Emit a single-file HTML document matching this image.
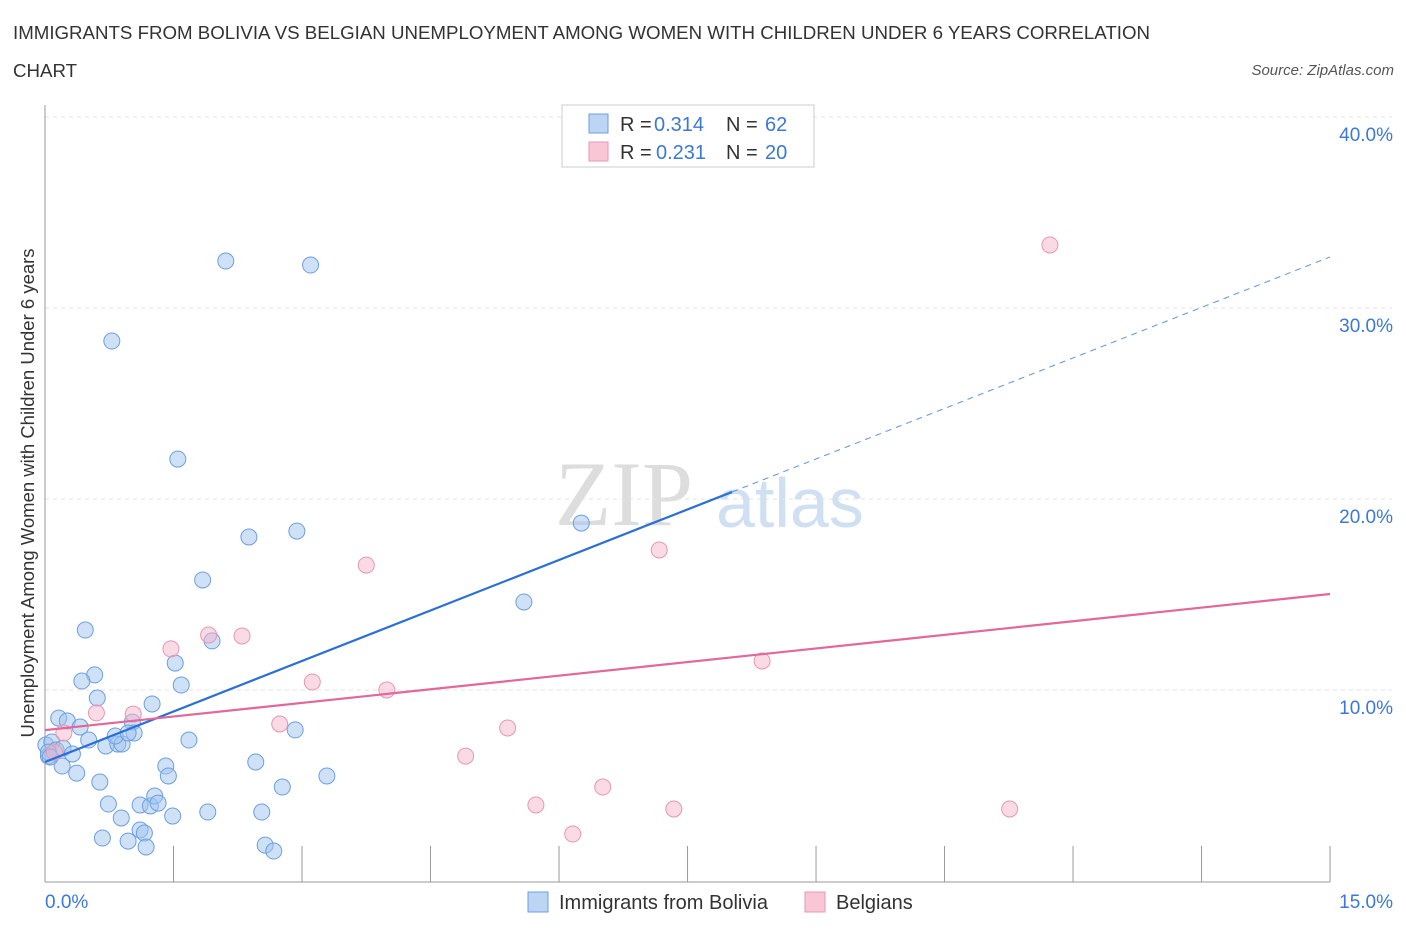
<!DOCTYPE html>
<html><head><meta charset="utf-8">
<style>
body{margin:0;background:#fff;font-family:"Liberation Sans",sans-serif;}
#wrap{position:relative;width:1406px;height:930px;overflow:hidden;}
.title{position:absolute;left:13px;top:14px;font-size:18.7px;color:#333;line-height:38px;width:1165px;}
.src{position:absolute;right:12px;top:62px;font-size:15px;color:#555;font-style:italic;}
</style></head>
<body>
<div id="wrap">
<div class="title">IMMIGRANTS FROM BOLIVIA VS BELGIAN UNEMPLOYMENT AMONG WOMEN WITH CHILDREN UNDER 6 YEARS CORRELATION CHART</div>
<div class="src">Source: ZipAtlas.com</div>
<svg id="chart" width="1406" height="930" style="position:absolute;left:0;top:0"></svg>
</div>
<script>
const blueX=[2.11,3.10,0.78,1.55,2.38,2.94,1.84,6.26,5.59,0.47,0.58,0.43,1.52,1.95,1.59,0.61,1.25,0.16,0.26,0.41,1.02,0.01,0.08,0.13,0.21,0.32,0.51,0.71,0.85,0.90,0.82,1.04,0.97,1.68,2.92,0.04,0.20,0.37,1.41,1.44,2.46,3.29,2.77,0.64,0.74,1.11,1.23,1.28,1.32,1.90,2.53,0.89,1.49,1.11,1.16,0.67,0.97,1.18,2.57,2.67,0.04,0.06];
const blueY=[32.46,32.25,28.27,22.09,18.01,18.32,15.76,18.74,14.61,13.14,10.79,10.47,11.41,12.57,10.26,9.58,9.27,8.53,8.38,8.06,8.32,7.12,7.28,6.86,6.96,6.65,7.38,7.07,7.17,7.17,7.59,7.75,7.75,7.38,7.91,6.54,6.02,5.65,6.02,5.50,6.23,5.50,4.92,5.18,4.03,3.98,3.93,4.45,4.08,3.61,3.61,3.30,3.40,2.67,2.51,2.25,2.09,1.78,1.88,1.57,6.75,6.49];
const pinkX=[11.73,7.17,3.75,1.47,1.91,2.30,3.12,3.99,8.37,0.60,1.03,2.74,5.40,0.22,0.11,4.91,6.51,5.73,7.34,11.26,6.16];
const pinkY=[33.30,17.33,16.54,12.15,12.88,12.83,10.42,10.0,11.52,8.80,8.74,8.22,8.01,7.75,6.75,6.54,4.92,3.98,3.77,3.77,2.46];
const blueTrend=[6.23,1.763];   // intercept, slope
const pinkTrend=[7.9,0.475];
const yTicks=[10,20,30,40];
const xTickVals=[0,1.5,3,4.5,6,7.5,9,10.5,12,13.5,15];

const X=v=>45+v*85.67, Y=v=>881-v*19.1;
const svg=document.getElementById('chart');
const NS='http://www.w3.org/2000/svg';
function el(t,a,p){const e=document.createElementNS(NS,t);for(const k in a)e.setAttribute(k,a[k]);(p||svg).appendChild(e);return e;}

let wm=el('text',{x:555,y:525,'font-size':92,fill:'#ddd','font-family':'Liberation Serif,serif'});wm.textContent='ZIP';


let wm2=el('text',{x:716,y:527,'font-size':70,fill:'#cfe0f3','font-family':'Liberation Sans,sans-serif'});wm2.textContent='atlas';



yTicks.forEach(v=>{
 const g=el('line',{x1:45,x2:1392,y1:Y(v),y2:Y(v),stroke:'#e2e2e2','stroke-dasharray':'4,4'});
 
 
 const t=el('text',{x:1393,y:Y(v)+24,'text-anchor':'end','font-size':19,fill:'#3b78d8'});t.textContent=v.toFixed(1)+'%';
 
 
});
const tg=el('line',{x1:45,x2:1392,y1:117,y2:117,stroke:'#e2e2e2','stroke-dasharray':'4,4'});


const ax=el('line',{x1:45,x2:1330,y1:882,y2:882,stroke:'#999'});


const ay=el('line',{x1:45,x2:45,y1:105,y2:882,stroke:'#999'});


xTickVals.forEach(v=>{const t=el('line',{x1:X(v),x2:X(v),y1:846,y2:882,stroke:'#999'});
 
 });
let xl=el('text',{x:45,y:908,'font-size':19,fill:'#3b78d8'});xl.textContent='0.0%';


let xr=el('text',{x:1393,y:908,'font-size':19,fill:'#3b78d8','text-anchor':'end'});xr.textContent='15.0%';


let yt=el('text',{x:0,y:0,'font-size':18.5,fill:'#333','text-anchor':'middle',transform:'translate(34,493) rotate(-90)'});yt.textContent='Unemployment Among Women with Children Under 6 years';



function dots(xs,ys,fill,stroke,name){xs.forEach((x,i)=>{
 const c=el('circle',{cx:X(x),cy:Y(ys[i]),r:8,fill:fill,stroke:stroke,'stroke-width':1});
 
 });}
dots(blueX,blueY,'rgba(160,196,240,0.5)','#6d9fe0','point-bolivia');
dots(pinkX,pinkY,'rgba(246,182,204,0.5)','#e797b3','point-belgians');

const bx1=8.02;
let b1=el('line',{x1:X(0),y1:Y(blueTrend[0]),x2:X(bx1),y2:Y(blueTrend[0]+blueTrend[1]*bx1),stroke:'#2a6fd8','stroke-width':2.2});


let b2=el('line',{x1:X(bx1),y1:Y(blueTrend[0]+blueTrend[1]*bx1),x2:X(15),y2:Y(blueTrend[0]+blueTrend[1]*15),stroke:'#5d92dd','stroke-width':1,'stroke-dasharray':'6,5'});


let p1=el('line',{x1:X(0),y1:Y(pinkTrend[0]),x2:X(15),y2:Y(pinkTrend[0]+pinkTrend[1]*15),stroke:'#e2679a','stroke-width':2.2});



const lg=el('g',{});


el('rect',{x:562,y:105,width:252,height:62,fill:'#fff',stroke:'#ccc'},lg);
el('rect',{x:589,y:114,width:19,height:19,fill:'#bcd5f5',stroke:'#6d9fe0'},lg);
el('rect',{x:589,y:142,width:19,height:19,fill:'#f9c6d6',stroke:'#e797b3'},lg);
function ltxt(x,y,s,c){const t=el('text',{x:x,y:y,'font-size':20,fill:c},lg);t.textContent=s;return t;}
ltxt(620,131,'R =','#333');ltxt(654,131,'0.314','#3b78d8');ltxt(726,131,'N =','#333');ltxt(765,131,'62','#3b78d8');
ltxt(620,159,'R =','#333');ltxt(656,159,'0.231','#3b78d8');ltxt(726,159,'N =','#333');ltxt(765,159,'20','#3b78d8');

const bl=el('g',{});


el('rect',{x:528,y:892,width:20,height:20,fill:'#bcd5f5',stroke:'#6d9fe0'},bl);
let bt1=el('text',{x:559,y:909,'font-size':20,fill:'#333'},bl);bt1.textContent='Immigrants from Bolivia';
el('rect',{x:805,y:892,width:20,height:20,fill:'#f9c6d6',stroke:'#e797b3'},bl);
let bt2=el('text',{x:836,y:909,'font-size':20,fill:'#333'},bl);bt2.textContent='Belgians';
</script>
</body></html>
